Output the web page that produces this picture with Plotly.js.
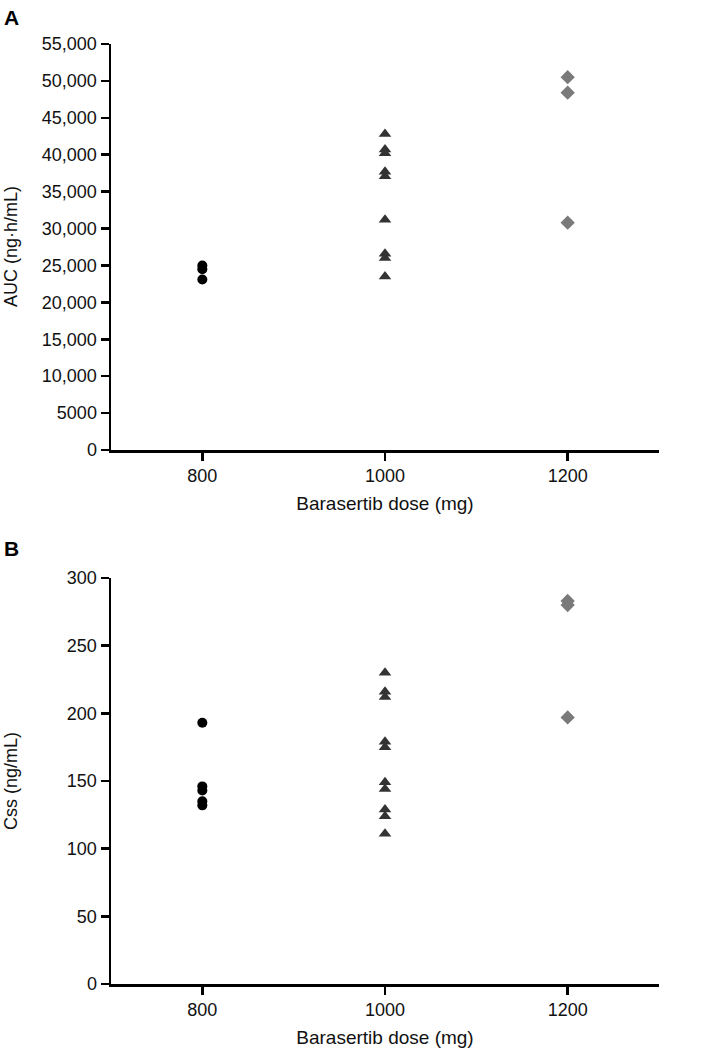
<!DOCTYPE html>
<html>
<head>
<meta charset="utf-8">
<script src="https://cdn.plot.ly/plotly-3.0.1.min.js"></script>
<style>html,body{margin:0;padding:0;background:#fff;}#chart{width:717px;height:1050px;}</style>
</head>
<body>
<div id="chart"></div>
<script>
// Doses (mg)
const doses = [800, 1000, 1200];
// Panel A: AUC (ng·h/mL)
const auc800 = [25000, 24500, 23100];
const auc1000 = [42800, 40700, 40200, 37700, 37100, 31200, 26600, 26000, 23500];
const auc1200 = [50500, 48400, 30800];
// Panel B: Css (ng/mL)
const css800 = [193, 146, 143, 135, 132];
const css1000 = [230, 216, 212, 179, 175, 149, 144, 129, 124, 111];
const css1200 = [283, 280, 197];
// Tick labels
const aucTickVals = [0, 5000, 10000, 15000, 20000, 25000, 30000, 35000, 40000, 45000, 50000, 55000];
const aucTickText = ['0', '5000', '10,000', '15,000', '20,000', '25,000', '30,000', '35,000', '40,000', '45,000', '50,000', '55,000'];
const cssTickVals = [0, 50, 100, 150, 200, 250, 300];
const cssTickText = ['0', '50', '100', '150', '200', '250', '300'];
const doseTickText = ['800', '1000', '1200'];
const yTitles = ['AUC (ng·h/mL)', 'Css (ng/mL)'];

const FONT = 'Liberation Sans, Arial, sans-serif';
const markerStyles = [
  {symbol: 'circle', size: 10, color: '#000000'},
  {symbol: 'triangle-up', size: 11, color: '#333333'},
  {symbol: 'diamond', size: 11, color: '#7a7a7a'}
];
function tr(xa, ya, dose, vals, ms) {
  return {
    type: 'scatter', mode: 'markers', xaxis: xa, yaxis: ya,
    x: vals.map(() => dose), y: vals,
    marker: {symbol: ms.symbol, size: ms.size, color: ms.color, line: {width: 0}},
    showlegend: false, hoverinfo: 'x+y'
  };
}
const data = [
  tr('x', 'y', doses[0], auc800, markerStyles[0]),
  tr('x', 'y', doses[1], auc1000, markerStyles[1]),
  tr('x', 'y', doses[2], auc1200, markerStyles[2]),
  tr('x2', 'y2', doses[0], css800, markerStyles[0]),
  tr('x2', 'y2', doses[1], css1000, markerStyles[1]),
  tr('x2', 'y2', doses[2], css1200, markerStyles[2])
];
const W = 717, H = 1050;
const xDom = [111 / W, 659 / W];
const yDomA = [1 - 450 / H, 1 - 44 / H];
const yDomB = [1 - 984 / H, 1 - 578 / H];
const common = {
  showgrid: false, zeroline: false, showline: true, linecolor: '#000', linewidth: 2.5,
  ticks: 'outside', ticklen: 8, tickwidth: 2.5, tickcolor: '#000',
  tickfont: {family: FONT, size: 18, color: '#111'}
};
function xax(anchor) {
  return Object.assign({}, common, {
    domain: xDom, anchor: anchor, range: [700, 1300], fixedrange: true,
    tickmode: 'array', tickvals: doses, ticktext: doseTickText,
    title: {text: 'Barasertib dose (mg)', font: {family: FONT, size: 19, color: '#111'}, standoff: 12}
  });
}
function yax(anchor, dom, range, tv, tt) {
  return Object.assign({}, common, {
    domain: dom, anchor: anchor, range: range, fixedrange: true,
    tickmode: 'array', tickvals: tv, ticktext: tt
  });
}
function yTitle(text, dom) {
  return {text: text, xref: 'paper', yref: 'paper', x: 11 / W, y: (dom[0] + dom[1]) / 2,
    xanchor: 'center', yanchor: 'middle', textangle: -90, showarrow: false,
    font: {family: FONT, size: 18, color: '#111'}};
}
const layout = {
  width: W, height: H,
  margin: {l: 0, r: 0, t: 0, b: 0},
  paper_bgcolor: '#fff', plot_bgcolor: '#fff',
  xaxis: xax('y'),
  yaxis: yax('x', yDomA, [0, 55000], aucTickVals, aucTickText),
  xaxis2: xax('y2'),
  yaxis2: yax('x2', yDomB, [0, 300], cssTickVals, cssTickText),
  annotations: [
    yTitle(yTitles[0], yDomA),
    yTitle(yTitles[1], yDomB),
    {text: '<b>A</b>', xref: 'paper', yref: 'paper', x: 2 / W, y: 1 - 18 / H, xanchor: 'left', yanchor: 'middle', showarrow: false, font: {family: FONT, size: 21, color: '#000'}},
    {text: '<b>B</b>', xref: 'paper', yref: 'paper', x: 2 / W, y: 1 - 548 / H, xanchor: 'left', yanchor: 'middle', showarrow: false, font: {family: FONT, size: 21, color: '#000'}}
  ]
};
Plotly.newPlot('chart', data, layout, {staticPlot: true, displayModeBar: false});
</script>
</body>
</html>
